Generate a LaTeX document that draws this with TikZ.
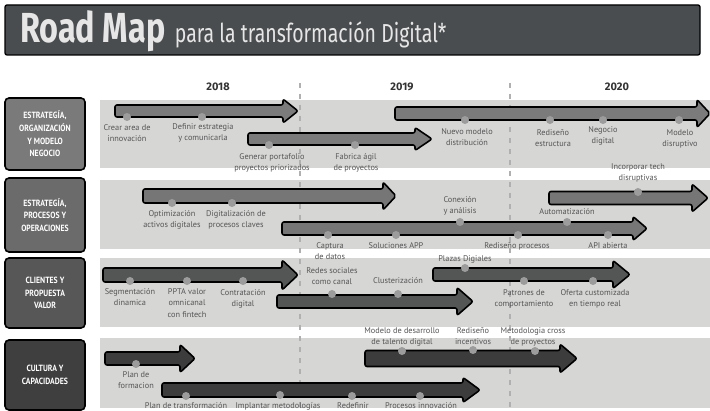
\documentclass[tikz,border=0pt]{standalone}
\usepackage{fontspec}
\setmainfont{PT Sans}
\newfontfamily\lblfont{PT Sans}
\newfontfamily\hdrfont[FakeStretch=0.86]{PT Sans}
\newfontfamily\ttlfont[FakeStretch=0.77]{Fira Sans}
\newfontfamily\subfont[FakeStretch=0.75]{Fira Sans}
\newfontfamily\yearfont{Fira Sans}
\definecolor{titlebg}{HTML}{4A4D4F}
\definecolor{titletxt}{HTML}{E6E6E6}
\definecolor{band}{HTML}{D6D7D5}
\definecolor{boxA}{HTML}{7A7A7A}
\definecolor{boxB}{HTML}{6B6B6B}
\definecolor{boxC}{HTML}{575757}
\definecolor{boxD}{HTML}{3F3F3F}
\definecolor{arrA}{HTML}{7B7B7B}
\definecolor{arrB}{HTML}{767676}
\definecolor{arrC}{HTML}{545555}
\definecolor{arrD}{HTML}{3C3C3C}
\definecolor{dotc}{HTML}{9C9C9C}
\definecolor{lblc}{HTML}{555555}
\definecolor{yearc}{HTML}{333333}
\definecolor{dashc}{HTML}{B0B0B0}
\tikzset{
  rowbox/.style={draw=black, line width=1.6pt, rounded corners=4pt, text=white,
    font=\hdrfont\bfseries\fontsize{9}{12.7}\selectfont, align=center},
  bandrect/.style={fill=band, draw=none},
  arrowshape/.style={draw=black, line width=1.6pt, rounded corners=2pt, line join=round},
  dot/.style={circle, fill=dotc, draw=none, inner sep=0pt, minimum size=8pt},
  lbl/.style={text=lblc, font=\lblfont\fontsize{8.3}{11.5}\selectfont, align=center, inner sep=0pt},
  yearlbl/.style={text=yearc, font=\yearfont\bfseries\fontsize{11}{11}\selectfont},
  yeardash/.style={draw=dashc, line width=2.6pt, dash pattern=on 5pt off 6pt}
}
% #1 fill, #2 x start, #3 head start, #4 tip, #5 y centre, #6 shaft half, #7 head half
\newcommand\rmarrow[7]{%
  \draw[arrowshape, fill=#1] (#2,#5-#6) -- (#3,#5-#6) -- (#3,#5-#7) -- (#4,#5) -- (#3,#5+#7) -- (#3,#5+#6) -- (#2,#5+#6) -- cycle;}
\begin{document}
\begin{tikzpicture}[x=1pt,y=-1pt]
\useasboundingbox (0,0) rectangle (710,411);
\fill[white] (0,0) rectangle (710,411);

% title banner
\draw[fill=titlebg, draw=black, line width=1.3pt, rounded corners=2pt] (5,5) rectangle (700,55);
\node[anchor=base west, inner sep=0pt, text=titletxt, font=\ttlfont\bfseries\fontsize{42}{42}\selectfont] (ttl) at (20,43) {Road Map};
\node[anchor=base west, inner sep=0pt, text=titletxt, font=\subfont\fontsize{26}{26}\selectfont] (sub) at ([xshift=9pt]ttl.base east) {para la transformación Digital*};

% bands
\fill[bandrect] (100,100) rectangle (710,168);
\fill[bandrect] (100,180) rectangle (710,249);
\fill[bandrect] (100,258) rectangle (710,327);
\fill[bandrect] (100,338) rectangle (710,408);

% row boxes
\node[rowbox, fill=boxA, minimum width=80pt, minimum height=72pt] (r1) at (45,134) {ESTRATEGÍA,\\ORGANIZACIÓN\\Y MODELO\\NEGOCIO};
\node[rowbox, fill=boxB, minimum width=80pt, minimum height=74pt] (r2) at (45,215) {ESTRATEGÍA,\\PROCESOS Y\\OPERACIONES};
\node[rowbox, fill=boxC, minimum width=80pt, minimum height=70pt] (r3) at (45,293) {CLIENTES Y\\PROPUESTA\\VALOR};
\node[rowbox, fill=boxD, minimum width=80pt, minimum height=70pt] (r4) at (45,375) {CULTURA Y\\CAPACIDADES};

% years
\node[yearlbl] (y1) at (218,87) {2018};
\node[yearlbl] (y2) at (402,87) {2019};
\node[yearlbl] (y3) at (617,87) {2020};

% dashed year separators
\coordinate (s1t) at (300,83);
\coordinate (s1b) at (300,411);
\coordinate (s2t) at (510,83);
\coordinate (s2b) at (510,411);
\draw[yeardash] (s1t) -- (s1b);
\draw[yeardash] (s2t) -- (s2b);

% arrows row 1
\rmarrow{arrA}{115}{283}{298}{111}{6}{12}
\rmarrow{arrA}{248}{415}{432}{139}{6}{11.5}
\rmarrow{arrA}{395}{697}{710}{113.5}{6.5}{14}
% arrows row 2
\rmarrow{arrB}{143}{383}{396}{196}{7}{14}
\rmarrow{arrB}{282}{633}{647}{228.5}{6.5}{12}
\rmarrow{arrB}{549}{692}{708}{198}{6.5}{14}
% arrows row 3
\rmarrow{arrC}{103}{282}{298}{275}{7}{15}
\rmarrow{arrC}{277}{457}{473}{301.5}{6.5}{14}
\rmarrow{arrC}{433}{613}{630}{274.5}{6.5}{14}
% arrows row 4
\rmarrow{arrD}{105}{180}{195}{358.5}{6.5}{14}
\rmarrow{arrD}{162}{463}{480}{390}{7}{12.5}
\rmarrow{arrD}{365}{560}{577}{358.5}{8}{14.5}

% milestones row 1
\node[dot] (a1) at (127,117) {};
\node[dot] (a2) at (202,117) {};
\node[dot] (a3) at (269,145) {};
\node[dot] (a4) at (355,145) {};
\node[dot] (a5) at (465,120) {};
\node[dot] (a6) at (550,120) {};
\node[dot] (a7) at (603,120) {};
\node[dot] (a8) at (679,120) {};
\node[lbl] (la1) at (127,133) {Crear area de\\innovación};
\node[lbl] (la2) at (203,133) {Definir estrategia\\y comunicarla};
\node[lbl] (la3) at (272,163) {Generar portafolio\\proyectos priorizados};
\node[lbl] (la4) at (356,163) {Fabrica ágil\\de proyectos};
\node[lbl] (la5) at (467,137) {Nuevo modelo\\distribución};
\node[lbl] (la6) at (553,138) {Rediseño\\estructura};
\node[lbl] (la7) at (603,136) {Negocio\\digital};
\node[lbl] (la8) at (680,139) {Modelo\\disruptivo};

% milestones row 2
\node[dot] (b1) at (172,203) {};
\node[dot] (b2) at (232,203) {};
\node[dot] (b3) at (328,235) {};
\node[dot] (b4) at (396,235) {};
\node[dot] (b5) at (460,222) {};
\node[dot] (b6) at (518,235) {};
\node[dot] (b7) at (567,222) {};
\node[dot] (b8) at (608,235) {};
\node[dot] (b9) at (638,192) {};
\node[lbl] (lb1) at (172,220) {Optimización\\activos digitales};
\node[lbl] (lb2) at (236,220) {Digitalización de\\procesos claves};
\node[lbl] (lb3) at (330,251) {Captura\\de datos};
\node[lbl] (lb4) at (396,246) {Soluciones APP};
\node[lbl] (lb5) at (460,206) {Conexión\\y análisis};
\node[lbl] (lb6) at (517,246) {Rediseño procesos};
\node[lbl] (lb7) at (567,212) {Automatización};
\node[lbl] (lb8) at (608,246) {API abierta};
\node[lbl] (lb9) at (638,173) {Incorporar tech\\disruptivas};

% milestones row 3
\node[dot] (c1) at (130,281) {};
\node[dot] (c2) at (187,281) {};
\node[dot] (c3) at (243,281) {};
\node[dot] (c4) at (332,294) {};
\node[dot] (c5) at (398,294) {};
\node[dot] (c6) at (465,268) {};
\node[dot] (c7) at (524,281) {};
\node[dot] (c8) at (593,281) {};
\node[lbl] (lc1) at (130,297) {Segmentación\\dinamica};
\node[lbl] (lc2) at (187,303) {PPTA valor\\omnicanal\\con fintech};
\node[lbl] (lc3) at (243,299) {Contratación\\digital};
\node[lbl] (lc4) at (332,276) {Redes sociales\\como canal};
\node[lbl] (lc5) at (398,281) {Clusterización};
\node[lbl] (lc6) at (465,259) {Plazas Digiales};
\node[lbl] (lc7) at (524,299) {Patrones de\\comportamiento};
\node[lbl] (lc8) at (595,299) {Oferta customizada\\en tiempo real};

% milestones row 4
\node[dot] (d1) at (136,364) {};
\node[dot] (d2) at (186,396) {};
\node[dot] (d3) at (280,395) {};
\node[dot] (d4) at (352,396) {};
\node[dot] (d5) at (420,396) {};
\node[dot] (d6) at (402,351) {};
\node[dot] (d7) at (473,350) {};
\node[dot] (d8) at (535,351) {};
\node[lbl] (ld1) at (136,380) {Plan de\\formacion};
\node[lbl] (ld2) at (186,406) {Plan de transformación};
\node[lbl] (ld3) at (278,406) {Implantar metodologías};
\node[lbl] (ld4) at (353,406) {Redefinir};
\node[lbl] (ld5) at (421,406) {Procesos innovación};
\node[lbl] (ld6) at (402,337) {Modelo de desarrollo\\de talento digital};
\node[lbl] (ld7) at (473,336) {Rediseño\\incentivos};
\node[lbl] (ld8) at (533,337) {Metodologia cross\\de proyectos};
\end{tikzpicture}
\end{document}
